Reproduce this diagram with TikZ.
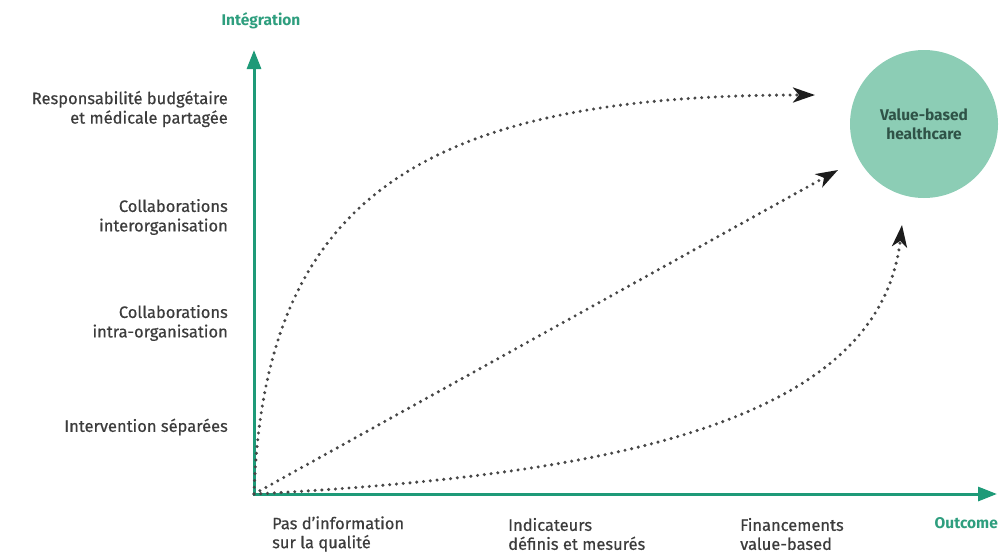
\documentclass[tikz,border=0pt]{standalone}
\usepackage{fontspec}
\setmainfont{Fira Sans}
\newfontfamily\labelfont{Fira Sans}[FakeBold=0.5]
\usetikzlibrary{arrows.meta}
\definecolor{axisgreen}{HTML}{1E9A78}
\definecolor{titlegreen}{HTML}{2E9E7E}
\definecolor{labelgrey}{HTML}{3C3C3C}
\definecolor{dotgrey}{HTML}{474747}
\definecolor{tipgrey}{HTML}{1C1C1C}
\definecolor{bubble}{HTML}{8CCDB5}
\definecolor{bubbletext}{HTML}{2F5347}
\begin{document}
\begin{tikzpicture}[x=1pt,y=-1pt,
  axis/.style={draw=axisgreen, line width=3pt, line join=miter,
    {Triangle[length=19pt,width=14pt]}-{Triangle[length=19pt,width=14pt]}},
  path/.style={draw=dotgrey, line width=3.4pt, line cap=round,
    dash pattern=on 0pt off 6.8pt,
    -{Stealth[length=22pt,width=15pt,inset=6pt,color=tipgrey]}},
  ylab/.style={anchor=east, align=right, inner sep=0pt, text=labelgrey,
    font=\labelfont\fontsize{16.5}{19.5}\selectfont},
  xlab/.style={anchor=west, align=left, inner sep=0pt, text=labelgrey,
    font=\labelfont\fontsize{16.5}{19}\selectfont},
  axlab/.style={inner sep=0pt, text=titlegreen,
    font=\fontsize{15.5}{18}\selectfont\bfseries}]
\useasboundingbox (0,0) rectangle (1001,555);

% axes
\coordinate (O) at (254,494);
\coordinate (ytop) at (254,50);
\coordinate (xend) at (997,494);
\draw[axis] (ytop) -- (O) -- (xend);
\node[axlab] (ytitle) at (261,21) {Intégration};
\node[axlab, anchor=east] (xtitle) at (998,523) {Outcome};

% levels of integration
\node[ylab] (l1) at (228,109) {Responsabilité budgétaire\\et médicale partagée};
\node[ylab] (l2) at (228,217) {Collaborations\\interorganisation};
\node[ylab] (l3) at (228,323) {Collaborations\\intra-organisation};
\node[ylab] (l4) at (228,427) {Intervention séparées};

% levels of outcome
\node[xlab] (o1) at (272,534) {Pas d’information\\sur la qualité};
\node[xlab] (o2) at (508,534) {Indicateurs\\définis et mesurés};
\node[xlab] (o3) at (740,534) {Financements\\value-based};

% target
\node[circle, fill=bubble, minimum size=148pt, inner sep=0pt, align=center,
  text=bubbletext, font=\fontsize{15.5}{19}\selectfont\bfseries] (vbh) at (924,124)
  {Value-based\\healthcare};

% routes
\coordinate (t1) at (815,95);
\coordinate (t2) at (838,170);
\coordinate (t3) at (902,225);
\draw[path] (O) .. controls (264,200) and (420,95) .. (t1);
\draw[path] (O) -- (t2);
\draw[path] (O) .. controls (620,475) and (880,420) .. (t3);
\end{tikzpicture}
\end{document}
